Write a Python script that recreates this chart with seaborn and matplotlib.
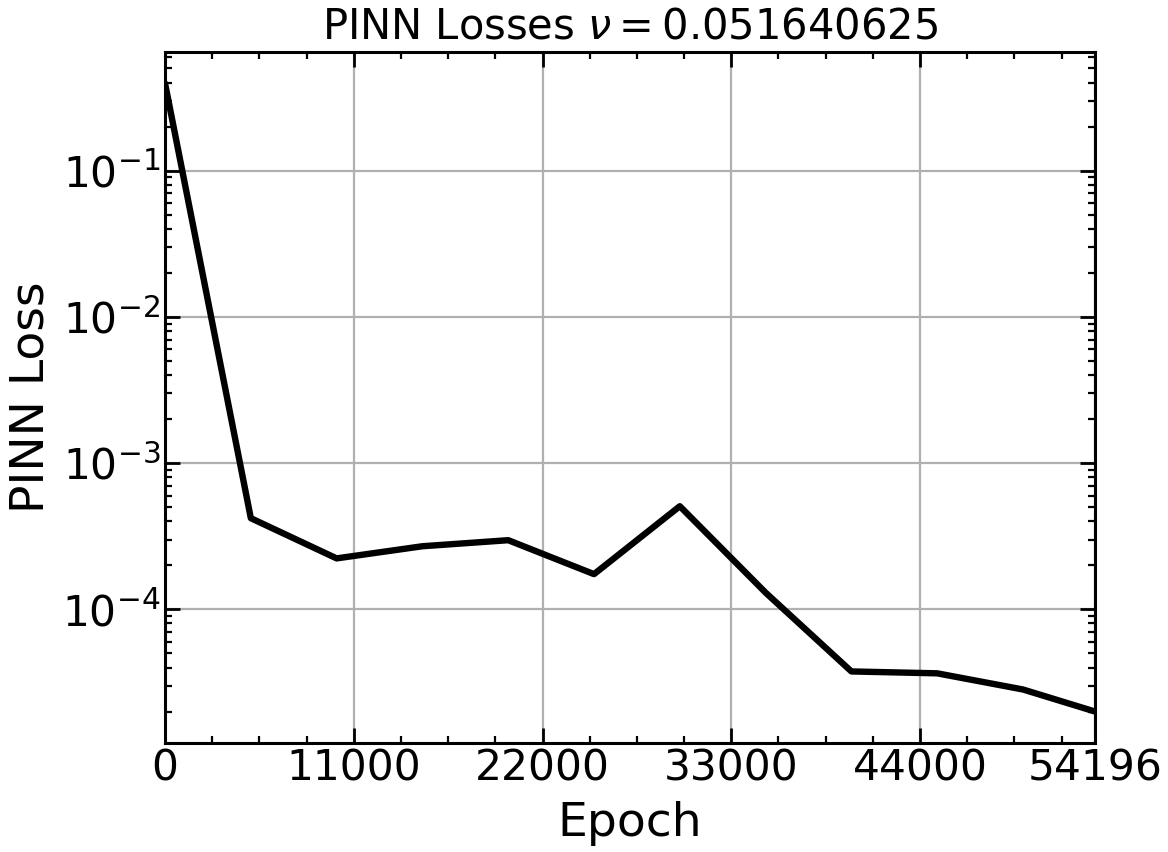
import numpy as np
import pandas as pd
import matplotlib
matplotlib.use("Agg")
import matplotlib.pyplot as plt
import seaborn as sns
from matplotlib.ticker import AutoMinorLocator, LogLocator

# values
epochs = [0, 5000, 10000, 15000, 20000, 25000, 30000, 35000, 40000, 45000, 50000, 54196]
pinn_loss = [0.395, 4.2e-4, 2.23e-4, 2.7e-4, 2.97e-4, 1.74e-4, 5.07e-4, 1.3e-4,
             3.76e-5, 3.65e-5, 2.83e-5, 2.0e-5]
xtick_vals = [0, 11000, 22000, 33000, 44000, 54196]
nu = 0.051640625

sns.set_style("ticks", rc={"text.color": "black", "axes.labelcolor": "black",
                           "xtick.color": "black", "ytick.color": "black",
                           "axes.edgecolor": "black"})
plt.rcParams["font.family"] = ["DejaVu Sans"]

df = pd.DataFrame({"Epoch": epochs, "Loss": pinn_loss})

fig = plt.figure(figsize=(11.68, 8.52), dpi=100)
ax = fig.add_axes([0.1413, 0.128, 0.7962, 0.811])

sns.lineplot(data=df, x="Epoch", y="Loss", color="black", linewidth=4.6, ax=ax)
ax.set_yscale("log")
ax.set_xlim(0, 54196)
ax.margins(y=0.05)

ax.set_xticks(xtick_vals)
ax.set_xticklabels([str(v) for v in xtick_vals])
ax.xaxis.set_minor_locator(AutoMinorLocator(4))
ax.yaxis.set_minor_locator(LogLocator(base=10, subs=np.arange(2, 10), numticks=20))

ax.grid(True, which="major", color="#b0b0b0", linewidth=1.6)
ax.tick_params(which="both", direction="in", top=True, right=True, left=True, bottom=True)
ax.tick_params(which="major", length=11, width=2, labelsize=30.5)
ax.tick_params(which="minor", length=5, width=1.6)
for sp in ax.spines.values():
    sp.set_linewidth(2.2)

ax.set_xlabel("Epoch", fontsize=34, labelpad=8)
ax.set_ylabel("PINN Loss", fontsize=34, labelpad=6)
ax.set_title(r"PINN Losses $\nu = $" + f"${nu}$", fontsize=30, pad=10)

fig.savefig("out.png", dpi=100)
